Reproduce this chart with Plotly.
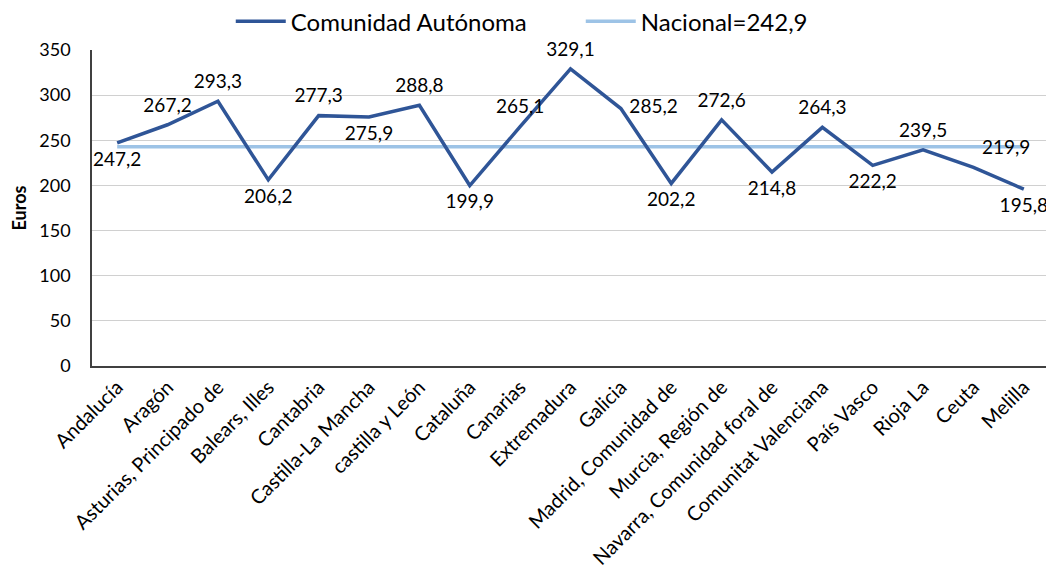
import plotly.graph_objects as go

regiones = [
    "Andalucía", "Aragón", "Asturias, Principado de", "Balears, Illes", "Cantabria",
    "Castilla-La Mancha", "castilla y León", "Cataluña", "Canarias", "Extremadura",
    "Galicia", "Madrid, Comunidad de", "Murcia, Región de", "Navarra, Comunidad foral de",
    "Comunitat Valenciana", "País Vasco", "Rioja La", "Ceuta", "Melilla",
]
comunidad = [247.2, 267.2, 293.3, 206.2, 277.3, 275.9, 288.8, 199.9, 265.1, 329.1,
             285.2, 202.2, 272.6, 214.8, 264.3, 222.2, 239.5, 219.9, 195.8]
nacional_valor = 242.9
nacional = [nacional_valor] * len(regiones)

posiciones = ["bottom center", "top center", "top center", "bottom center", "top center",
              "bottom center", "top center", "bottom center", "top center", "top center",
              "middle right", "bottom center", "top center", "bottom center", "top center",
              "bottom center", "top center", "top right", "bottom center"]

etiquetas = [f"{v:.1f}".replace(".", ",") for v in comunidad]
fuente = "Lato, Calibri, sans-serif"

fig = go.Figure()
fig.add_trace(go.Scatter(
    x=regiones, y=nacional, name="Nacional=" + f"{nacional_valor:.1f}".replace(".", ","),
    mode="lines", line=dict(color="#9DC3E6", width=3.5),
))
# marcadores invisibles para separar las etiquetas de la línea
fig.add_trace(go.Scatter(
    x=regiones, y=comunidad, name="Comunidad Autónoma", mode="lines+markers+text",
    text=etiquetas, textposition=posiciones,
    textfont=dict(size=19, color="black", family=fuente),
    marker=dict(size=12, color="rgba(0,0,0,0)"),
    line=dict(color="#2F5597", width=3.5), cliponaxis=False,
))

# la página deja 8 px de margen en el body
fig.update_layout(
    width=1046, height=566,
    margin=dict(l=84, r=5, t=42, b=208, autoexpand=False),
    plot_bgcolor="white", paper_bgcolor="white",
    font=dict(family=fuente, color="black"),
    legend=dict(orientation="h", x=0.145, xanchor="left", y=1.09, yanchor="middle",
                font=dict(size=24), traceorder="reversed", entrywidth=285,
                itemwidth=50, bgcolor="rgba(0,0,0,0)"),
    showlegend=True,
)
fig.update_xaxes(tickangle=-45, tickfont=dict(size=20), showline=True, automargin=False,
                 linecolor="#404040", linewidth=1.5, range=[-0.5, 18.5], ticks="")
fig.update_yaxes(range=[0, 350], dtick=50, tickfont=dict(size=18), showgrid=True,
                 gridcolor="#D0D0D0", showline=True, linecolor="#404040", linewidth=1.5,
                 zeroline=False, ticks="", automargin=False, ticklabelstandoff=16,
                 title=dict(text="<b>Euros</b>", font=dict(size=18), standoff=10))

fig.write_html("out.html")
